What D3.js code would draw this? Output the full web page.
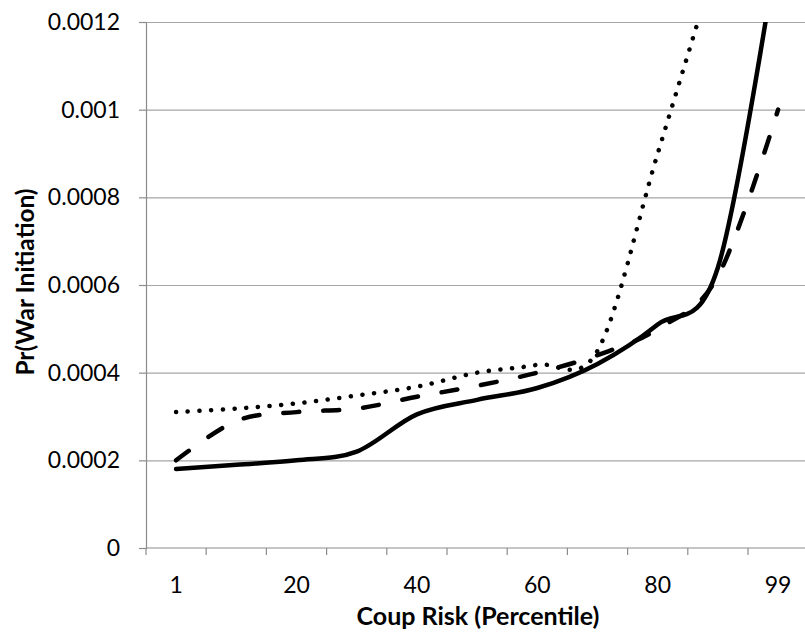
<!DOCTYPE html>
<html>
<head>
<meta charset="utf-8">
<script src="https://cdn.jsdelivr.net/npm/d3@7/dist/d3.min.js"></script>
<style>
  body { margin: 0; background: #fff; }
  text { font-family: Lato, "Open Sans", sans-serif; fill: #000; }
</style>
</head>
<body>
<div id="chart"></div>
<script>
// categories on the x axis (percentiles), only some of them get a label
var categories = [1, 10, 20, 30, 40, 50, 60, 70, 80, 90, 99];
var labelled = [1, 20, 40, 60, 80, 99];

// three series
var solidValues  = [0.00018, 0.00019, 0.0002, 0.00022, 0.000305, 0.000338, 0.000365, 0.00042, 0.00051, 0.00064, 0.00138];
var dashedValues = [0.0002, 0.00029, 0.00031, 0.000318, 0.000345, 0.00037, 0.0004, 0.00044, 0.0005, 0.00062, 0.001];
var dottedValues = [0.00031, 0.000318, 0.00033, 0.000348, 0.000368, 0.0004, 0.000418, 0.00045, 0.0009, 0.00135, 0.0018];

// y axis ticks
var yTicks = [0, 0.0002, 0.0004, 0.0006, 0.0008, 0.001, 0.0012];
var yTickLabels = ["0", "0.0002", "0.0004", "0.0006", "0.0008", "0.001", "0.0012"];

var W = 805, H = 640;
var plotLeft = 146, plotTop = 22, plotBottom = 548, bandW = 60.2;
var plotRight = plotLeft + bandW * categories.length;

var svg = d3.select("#chart").append("svg")
    .attr("width", W)
    .attr("height", H);

var x = d3.scaleBand()
    .domain(categories)
    .range([plotLeft, plotRight])
    .padding(0);

var y = d3.scaleLinear()
    .domain([0, 0.0012])
    .range([plotBottom, plotTop]);

// gridlines
svg.append("g")
    .attr("transform", "translate(" + plotLeft + ",0)")
    .call(d3.axisLeft(y).tickValues(yTicks.slice(1)).tickSize(-(plotRight - plotLeft)).tickFormat(""))
    .call(g => g.select(".domain").remove())
    .selectAll("line")
    .attr("stroke", "#a6a6a6")
    .attr("stroke-width", 1.2);

// y axis
var yAxis = svg.append("g")
    .attr("transform", "translate(" + plotLeft + ",0)")
    .call(d3.axisLeft(y).tickValues(yTicks).tickSize(7).tickPadding(19)
        .tickFormat((d, i) => yTickLabels[i]));
yAxis.select(".domain").attr("stroke", "#8c8c8c").attr("stroke-width", 1.2);
yAxis.selectAll(".tick line").attr("stroke", "#8c8c8c").attr("stroke-width", 1.2);
yAxis.selectAll("text")
    .attr("fill", "#000")
    .style("font-size", "23px")
    .style("font-family", "Lato, sans-serif");

// x axis line and ticks between categories
svg.append("line")
    .attr("x1", plotLeft).attr("x2", plotRight)
    .attr("y1", plotBottom).attr("y2", plotBottom)
    .attr("stroke", "#8c8c8c").attr("stroke-width", 1.2);

svg.selectAll()
    .data(categories).enter()
    .append("line")
    .attr("x1", d => x(d)).attr("x2", d => x(d))
    .attr("y1", plotBottom).attr("y2", plotBottom + 7)
    .attr("stroke", "#8c8c8c").attr("stroke-width", 1.2);

svg.selectAll()
    .data(labelled).enter()
    .append("text")
    .attr("x", d => x(d) + x.bandwidth() / 2)
    .attr("y", 593)
    .attr("text-anchor", "middle")
    .style("font-size", "23px")
    .text(d => d);

// axis titles
svg.append("text")
    .attr("x", 478)
    .attr("y", 625)
    .attr("text-anchor", "middle")
    .style("font-size", "25px")
    .style("font-weight", "bold")
    .text("Coup Risk (Percentile)");

svg.append("text")
    .attr("transform", "translate(34,282) rotate(-90)")
    .attr("text-anchor", "middle")
    .style("font-size", "24.5px")
    .style("font-weight", "bold")
    .text("Pr(War Initiation)");

// lines, clipped to the plot area
svg.append("clipPath")
    .attr("id", "plotclip")
    .append("rect")
    .attr("x", plotLeft).attr("y", plotTop)
    .attr("width", plotRight - plotLeft).attr("height", plotBottom - plotTop);

var line = d3.line()
    .x((d, i) => x(categories[i]) + x.bandwidth() / 2)
    .y(d => y(d))
    .curve(d3.curveCardinal.tension(0));

var series = [
    {values: solidValues, dash: null},
    {values: dashedValues, dash: "16,24"},
    {values: dottedValues, dash: "0.1,11.6"}
];

svg.append("g")
    .attr("clip-path", "url(#plotclip)")
    .selectAll()
    .data(series).enter()
    .append("path")
    .attr("d", d => line(d.values))
    .attr("fill", "none")
    .attr("stroke", "#000")
    .attr("stroke-width", 4.5)
    .attr("stroke-linecap", "round")
    .attr("stroke-linejoin", "round")
    .attr("stroke-dasharray", d => d.dash);
</script>
</body>
</html>
